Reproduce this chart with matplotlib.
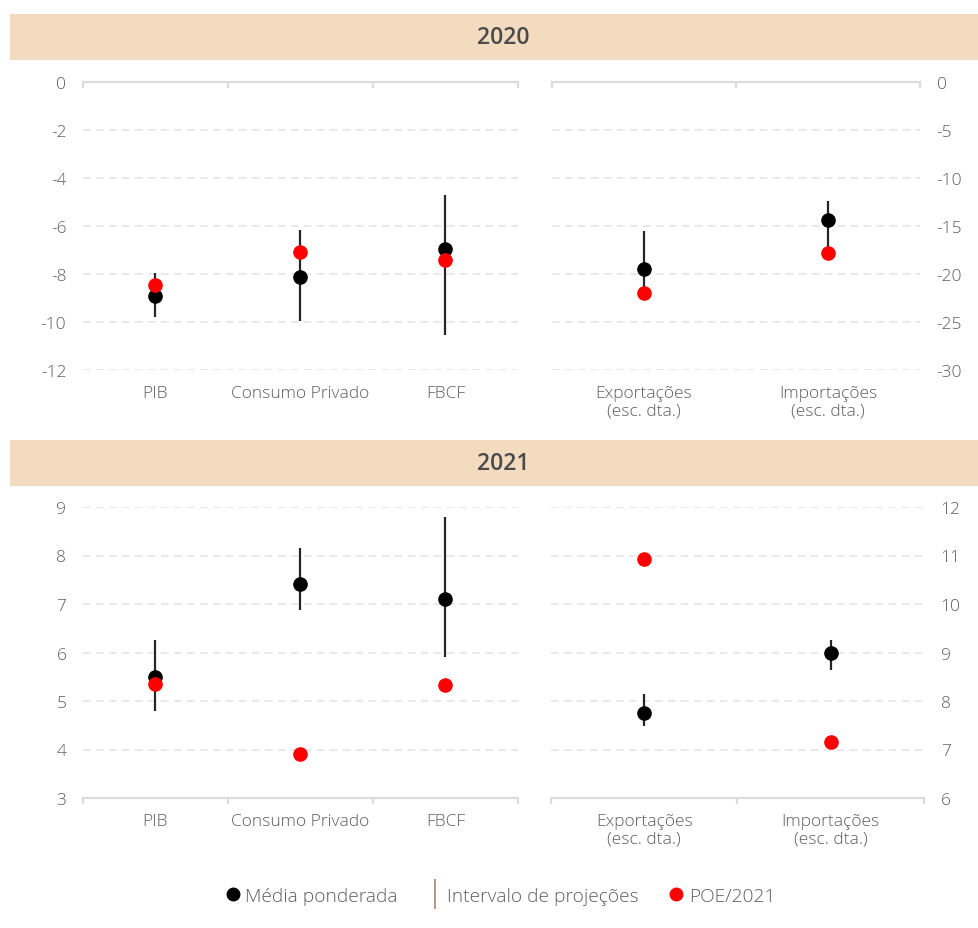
import matplotlib
matplotlib.use("Agg")
import matplotlib.pyplot as plt
from matplotlib.lines import Line2D
from matplotlib.patches import Rectangle

plt.rcParams['font.family'] = ['Open Sans', 'DejaVu Sans']

# ---------------- data ----------------
cats_left = ["PIB", "Consumo Privado", "FBCF"]
cats_right = ["Exportações\n(esc. dta.)", "Importações\n(esc. dta.)"]

# 2020
media_2020_left = [-8.92, -8.15, -6.98]
low_2020_left = [-9.79, -9.98, -10.55]
high_2020_left = [-7.98, -6.18, -4.71]
poe_2020_left = [-8.47, -7.08, -7.43]

media_2020_right = [-19.5, -14.43]
low_2020_right = [-22.0, -17.8]
high_2020_right = [-15.5, -12.42]
poe_2020_right = [-22.05, -17.82]

# 2021
media_2021_left = [5.49, 7.41, 7.11]
low_2021_left = [4.79, 6.88, 5.90]
high_2021_left = [6.25, 8.16, 8.79]
poe_2021_left = [5.36, 3.91, 5.32]

media_2021_right = [7.76, 8.99]
low_2021_right = [7.48, 8.63]
high_2021_right = [8.15, 9.25]
poe_2021_right = [10.92, 7.15]

yticks_2020_left = [0, -2, -4, -6, -8, -10, -12]
yticks_2020_right = [0, -5, -10, -15, -20, -25, -30]
yticks_2021_left = [3, 4, 5, 6, 7, 8, 9]
yticks_2021_right = [6, 7, 8, 9, 10, 11, 12]

# ---------------- style ----------------
W, H = 979, 929
TXT = "#5E5E5E"
GRID = "#DCDCDC"
BAND = "#F2DBBF"
LINEC = "#262626"
RED = "#FF0000"
FS = 12.5
FW = 'light'

fig = plt.figure(figsize=(W / 100, H / 100), dpi=100)


def fx(px):
    return px / W


def fy(py):
    return 1 - py / H


def panel(rect, cats, media, low, high, poe, yticks, right, top_axis):
    ax = fig.add_axes(rect)
    n = len(cats)
    xs = list(range(n))
    ax.set_xlim(-0.5, n - 0.5)
    ax.set_ylim(min(yticks), max(yticks))
    ax.set_yticks(yticks)
    ax.set_yticklabels([str(v) for v in yticks], fontweight=FW)
    ax.yaxis.grid(True, color="#E3E3E3", linestyle=(0, (5, 3.5)), linewidth=1.1)
    ax.set_axisbelow(True)
    for s in ax.spines.values():
        s.set_visible(False)
    sp = ax.spines['top'] if top_axis else ax.spines['bottom']
    sp.set_visible(True)
    sp.set_color(GRID)
    sp.set_linewidth(1.6)
    # category labels
    ax.set_xticks(xs)
    ax.set_xticklabels(cats, fontsize=FS, color=TXT, linespacing=1.12, fontweight=FW)
    ax.tick_params(axis='x', which='major', length=0, pad=11,
                   bottom=True, top=False, labelbottom=True)
    ax.set_xticks([i - 0.5 for i in range(n + 1)], minor=True)
    if top_axis:
        ax.tick_params(axis='x', which='minor', top=True, bottom=False,
                       direction='in', length=4, width=1.6, color=GRID)
    else:
        ax.tick_params(axis='x', which='minor', top=False, bottom=True,
                       direction='out', length=4, width=1.6, color=GRID)
    if right:
        ax.yaxis.tick_right()
    ax.tick_params(axis='y', length=0, labelsize=FS, labelcolor=TXT, pad=12)
    ax.vlines(xs, low, high, color=LINEC, linewidth=1.6, zorder=2)
    ax.plot(xs, media, 'o', color='black', markersize=9.5, zorder=3, clip_on=False)
    ax.plot(xs, poe, 'o', color=RED, markersize=9.5, zorder=4, clip_on=False)
    return ax


# header bands
for (y0, y1, label) in [(15, 61, "2020"), (441, 487, "2021")]:
    fig.patches.append(Rectangle((fx(10), fy(y1)), fx(979) - fx(10), fy(y0) - fy(y1),
                                 transform=fig.transFigure, facecolor=BAND,
                                 edgecolor='none', zorder=0))
    fig.text(fx(503), fy((y0 + y1) / 2), label, ha='center', va='center',
             fontsize=16.5, fontweight='semibold', color="#4A4A4A")

# 2020 panels
top_y0, top_y1 = 82.7, 370.7
panel([fx(83), fy(top_y1), fx(518) - fx(83), fy(top_y0) - fy(top_y1)],
      cats_left, media_2020_left, low_2020_left, high_2020_left, poe_2020_left,
      yticks_2020_left, right=False, top_axis=True)
panel([fx(552), fy(top_y1), fx(920) - fx(552), fy(top_y0) - fy(top_y1)],
      cats_right, media_2020_right, low_2020_right, high_2020_right, poe_2020_right,
      yticks_2020_right, right=True, top_axis=True)

# 2021 panels
bot_y0, bot_y1 = 508, 799
panel([fx(83), fy(bot_y1), fx(518) - fx(83), fy(bot_y0) - fy(bot_y1)],
      cats_left, media_2021_left, low_2021_left, high_2021_left, poe_2021_left,
      yticks_2021_left, right=False, top_axis=False)
panel([fx(551), fy(bot_y1), fx(924) - fx(551), fy(bot_y0) - fy(bot_y1)],
      cats_right, media_2021_right, low_2021_right, high_2021_right, poe_2021_right,
      yticks_2021_right, right=True, top_axis=False)

# legend
handles = [
    Line2D([], [], marker='o', linestyle='none', color='black', markersize=9),
    Line2D([], [], marker='|', linestyle='none', color='#A8806E', markersize=21,
           markeredgewidth=1.2),
    Line2D([], [], marker='o', linestyle='none', color=RED, markersize=9),
]
labels = ["Média ponderada", "Intervalo de projeções", "POE/2021"]
leg = fig.legend(handles, labels, loc='center', bbox_to_anchor=(fx(499), fy(897)),
                 ncol=3, frameon=False, fontsize=13.8, labelcolor=TXT,
                 handletextpad=0.15, columnspacing=1.45, handlelength=1.0)
for t in leg.get_texts():
    t.set_fontweight(FW)

fig.savefig("out.png", dpi=100, facecolor='white')
